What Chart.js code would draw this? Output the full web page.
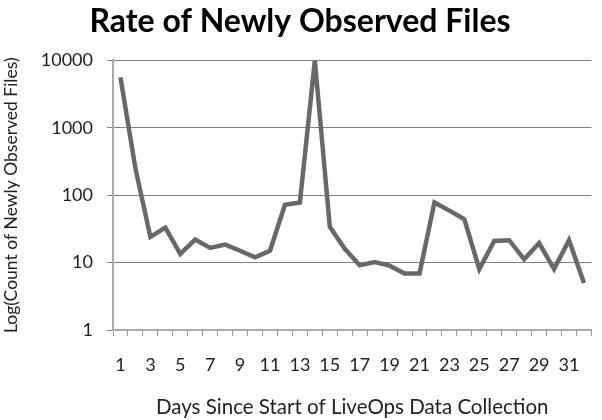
<!DOCTYPE html>
<html>
<head>
<meta charset="utf-8">
<script src="https://cdn.jsdelivr.net/npm/chart.js@4"></script>
<style>
  html, body { margin: 0; padding: 0; background: #fff; }
  #wrap { width: 602px; height: 420px; }
</style>
</head>
<body>
<div id="wrap"><canvas id="chart" width="602" height="420"></canvas></div>
<script>
// days 1..32
const days = ['1','2','3','4','5','6','7','8','9','10','11','12','13','14','15','16',
              '17','18','19','20','21','22','23','24','25','26','27','28','29','30','31','32'];
const newFiles = [5600, 250, 24, 33, 13.5, 22, 16.5, 18.5, 15, 12, 15, 72, 78, 10000, 34, 16,
                  9.1, 10.2, 9, 6.9, 6.9, 78, 59, 44, 8, 21, 21.5, 11.2, 19.5, 8, 21.5, 5];
const yTicks = [1, 10, 100, 1000, 10000];

const ctx = document.getElementById('chart').getContext('2d');
new Chart(ctx, {
    type: 'line',
    data: {
        labels: days,
        datasets: [{
            data: newFiles,
            borderColor: '#686868',
            borderWidth: 4.5,
            pointRadius: 0,
            tension: 0,
            fill: false
        }]
    },
    options: {
        responsive: false,
        animation: false,
        layout: { padding: { right: 2, top: 0, left: 0, bottom: 0 } },
        plugins: {
            legend: { display: false },
            tooltip: { enabled: false },
            title: {
                display: true,
                text: 'Rate of Newly Observed Files',
                color: '#000',
                font: { family: 'Lato', size: 32, weight: 'bold' },
                padding: { top: 2, bottom: 20 }
            }
        },
        scales: {
            x: {
                type: 'category',
                offset: true,
                afterFit: (scale) => { scale.height = 90; },
                grid: { offset: true, drawOnChartArea: false, drawTicks: true, tickLength: 6, color: '#999' },
                border: { color: '#aaa', width: 2 },
                ticks: {
                    autoSkip: false,
                    maxRotation: 0,
                    padding: 18,
                    color: '#222',
                    font: { family: 'Lato', size: 18 },
                    callback: function (val, i) { return i % 2 === 0 ? this.getLabelForValue(val) : ''; }
                },
                title: {
                    display: true,
                    text: 'Days Since Start of LiveOps Data Collection',
                    color: '#222',
                    font: { family: 'Lato', size: 20.5 },
                    padding: { top: 10, bottom: 0 }
                }
            },
            y: {
                type: 'logarithmic',
                min: 1,
                max: 10000,
                afterFit: (scale) => { scale.width = 113; },
                afterBuildTicks: (scale) => { scale.ticks = yTicks.map(v => ({ value: v })); },
                grid: { color: '#808080', tickLength: 6, drawTicks: true },
                border: { color: '#aaa', width: 2 },
                ticks: {
                    padding: 14,
                    color: '#222',
                    font: { family: 'Lato', size: 18 },
                    callback: (v) => String(v)
                },
                title: {
                    display: true,
                    text: 'Log(Count of Newly Observed Files)',
                    color: '#222',
                    font: { family: 'Lato', size: 17.5 },
                    padding: { top: 1, bottom: 0 }
                }
            }
        }
    }
});
</script>
</body>
</html>
